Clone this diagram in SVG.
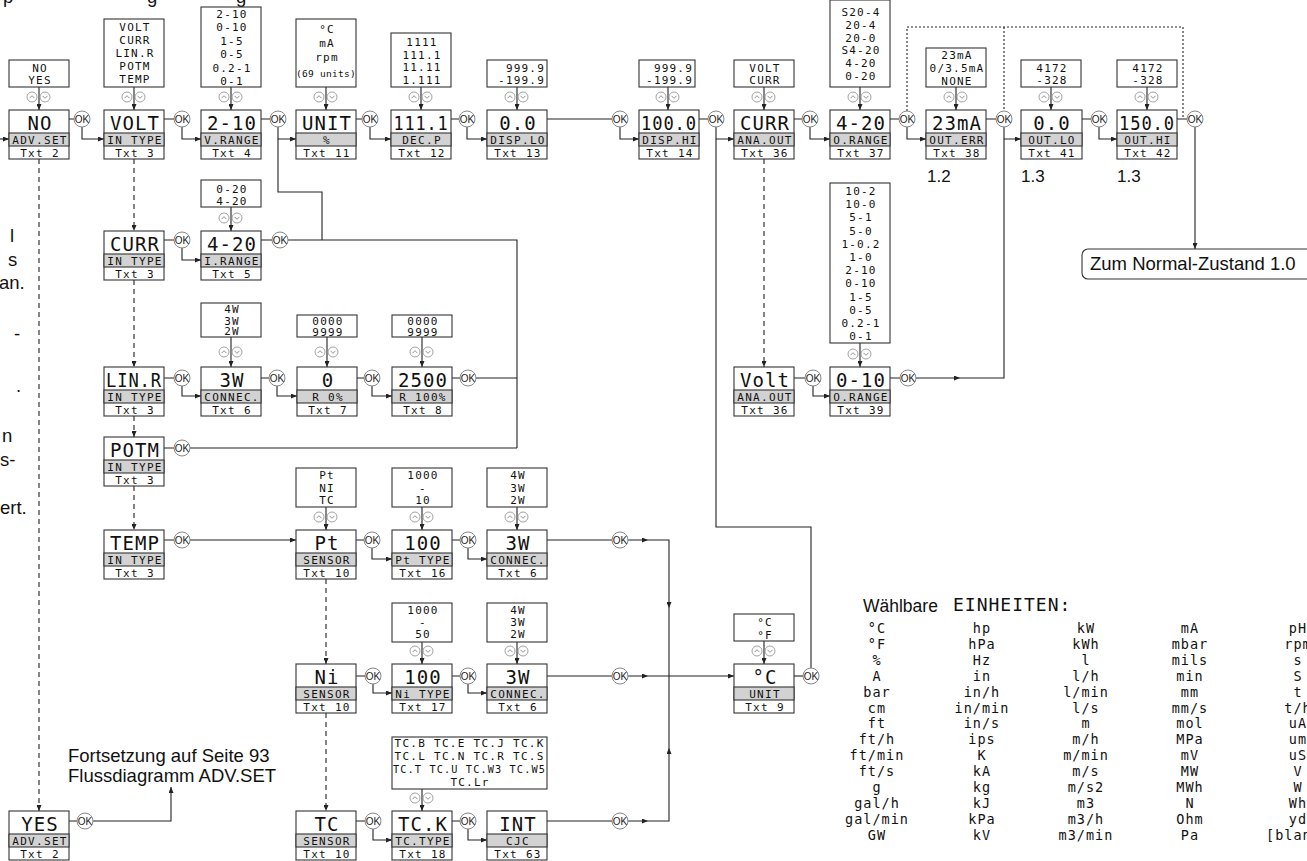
<svg xmlns="http://www.w3.org/2000/svg" xmlns:xlink="http://www.w3.org/1999/xlink" width="1307" height="861" viewBox="0 0 1307 861">
<style>
.bx{fill:#fff;stroke:#333;stroke-width:1.1}
.gr{fill:#d2d2d2;stroke:#333;stroke-width:1.1}
.v{font-family:"DejaVu Sans Mono","Liberation Mono",monospace;font-size:19px;letter-spacing:1px;text-anchor:middle;fill:#111}
.l{font-family:"DejaVu Sans Mono","Liberation Mono",monospace;font-size:11px;letter-spacing:1.3px;text-anchor:middle;fill:#111}
.o{font-family:"DejaVu Sans Mono","Liberation Mono",monospace;font-size:11px;letter-spacing:1.2px;text-anchor:middle;fill:#111}
.oe{font-family:"DejaVu Sans Mono","Liberation Mono",monospace;font-size:11px;letter-spacing:1.2px;text-anchor:end;fill:#111}
.u{font-family:"DejaVu Sans Mono","Liberation Mono",monospace;font-size:13.5px;letter-spacing:1px;text-anchor:middle;fill:#111}
.t{font-family:"Liberation Sans",Arial,sans-serif;font-size:18.5px;fill:#111}
.ln{fill:none;stroke:#222;stroke-width:1.1}
.ar{marker-end:url(#ah)}
.da{stroke-dasharray:5 4}
.dt{stroke-dasharray:2 2}
.okc{fill:#fff;stroke:#888;stroke-width:1}
.okt{font-family:"Liberation Sans",Arial,sans-serif;font-size:10px;text-anchor:middle;fill:#222}
.ic{fill:#fff;stroke:#999;stroke-width:0.9}
.icp{fill:none;stroke:#888;stroke-width:0.9}
</style>
<defs>
<marker id="ah" markerWidth="6" markerHeight="5" refX="6" refY="2.5" orient="auto" markerUnits="userSpaceOnUse"><path d="M0,0 L6,2.5 L0,5 z" fill="#222"/></marker>
<g id="ud"><circle cx="-7" cy="0" r="5" class="ic"/><path d="M-9.5,1.2 L-7,-1.3 L-4.5,1.2" class="icp"/><circle cx="6" cy="0" r="5" class="ic"/><path d="M3.5,-1.2 L6,1.3 L8.5,-1.2" class="icp"/></g>
<g id="ok"><circle r="8" class="okc"/><text y="3.5" class="okt">OK</text></g>
</defs>
<rect width="1307" height="861" fill="#fff"/>

<!-- cut-off page text fragments -->
<g id="fragments">
<text class="t" x="3" y="3">p</text><text class="t" x="147" y="3">g</text><text class="t" x="236" y="3">g</text>
<text class="t" x="10" y="242">l</text>
<text class="t" x="8" y="266">s</text>
<text class="t" x="-1" y="289">an.</text>
<text class="t" x="14" y="340">-</text>
<text class="t" x="16" y="392">.</text>
<text class="t" x="2" y="442">n</text>
<text class="t" x="0" y="466">s-</text>
<text class="t" x="0" y="514">ert.</text>
</g>

<g id="connectors">
<!-- top row -->
<path class="ln ar" d="M0,139 H9"/>
<path class="ln ar" d="M69,119 H82 V139 H104"/>
<path class="ln ar" d="M164,119 H182 V139 H201"/>
<path class="ln ar" d="M261,119 H278 V139 H296"/>
<path class="ln" d="M278,139 V192 H322 V240"/>
<path class="ln ar" d="M356,119 H370 V139 H391"/>
<path class="ln ar" d="M451,119 H467 V139 H487"/>
<path class="ln ar" d="M547,119 H620 V139 H639"/>
<path class="ln ar" d="M699,119 H716 V139 H734"/>
<path class="ln" d="M716,139 V527 H811 V676"/>
<path class="ln ar" d="M794,119 H810 V139 H830"/>
<path class="ln ar" d="M890,119 H907 V139 H926"/>
<path class="ln ar" d="M986,119 H1004 V139 H1021"/>
<path class="ln" d="M960,378 H1004 V139"/>
<path class="ln ar" d="M1082,119 H1099 V139 H1117"/>
<path class="ln ar" d="M1177,119 H1195 V249"/>
<path class="ln dt" d="M907,119 V27 H1183 V119"/>
<path class="ln dt" d="M1004,27 V119"/>
<!-- row 2 -->
<path class="ln ar" d="M164,240 H182 V260 H201"/>
<path class="ln" d="M261,240 H517 V448"/>
<!-- row 3 -->
<path class="ln ar" d="M164,378 H182 V396 H201"/>
<path class="ln ar" d="M261,378 H277 V396 H297"/>
<path class="ln ar" d="M357,378 H372 V396 H392"/>
<path class="ln" d="M452,378 H517"/>
<path class="ln ar" d="M794,378 H813 V396 H830"/>
<path class="ln ar" d="M890,378 H960"/>
<path class="ln" d="M164,448 H517"/>
<!-- temp row -->
<path class="ln ar" d="M164,540 H296"/>
<path class="ln ar" d="M356,540 H372 V559 H392"/>
<path class="ln ar" d="M452,540 H468 V559 H487"/>
<path class="ln ar" d="M547,540 H648"/>
<path class="ln ar" d="M648,540 H669 V608"/>
<path class="ln" d="M669,608 V676"/>
<!-- Ni row -->
<path class="ln ar" d="M356,676 H373 V693 H392"/>
<path class="ln ar" d="M451,676 H468 V693 H487"/>
<path class="ln ar" d="M547,676 H648"/>
<path class="ln ar" d="M648,676 H734"/>
<path class="ln" d="M794,676 H811"/>
<!-- TC row -->
<path class="ln ar" d="M69,821 H171 V787"/>
<path class="ln ar" d="M356,821 H373 V840 H392"/>
<path class="ln ar" d="M452,821 H468 V840 H487"/>
<path class="ln ar" d="M547,821 H648"/>
<path class="ln ar" d="M648,821 H669 V748"/>
<path class="ln" d="M669,748 V676"/>
<!-- dashed menu scroll -->
<path class="ln da ar" d="M39,159 V811"/>
<path class="ln da ar" d="M134,159 V231"/>
<path class="ln da ar" d="M134,280 V367"/>
<path class="ln da ar" d="M134,416 V437"/>
<path class="ln da ar" d="M134,486 V530"/>
<path class="ln da ar" d="M326,579 V664"/>
<path class="ln da ar" d="M326,713 V811"/>
<path class="ln da ar" d="M764,159 V367"/>
<!-- option selectors -->
<path class="ln ar" d="M39,87 V110"/>
<path class="ln ar" d="M134,87 V110"/>
<path class="ln ar" d="M231,87 V110"/>
<path class="ln ar" d="M326,87 V110"/>
<path class="ln ar" d="M421,87 V110"/>
<path class="ln ar" d="M517,87 V110"/>
<path class="ln ar" d="M668,87 V110"/>
<path class="ln ar" d="M764,87 V110"/>
<path class="ln ar" d="M860,87 V110"/>
<path class="ln ar" d="M956,87 V110"/>
<path class="ln ar" d="M1051,87 V110"/>
<path class="ln ar" d="M1147,87 V110"/>
<path class="ln ar" d="M231,207 V231"/>
<path class="ln ar" d="M231,337 V367"/>
<path class="ln ar" d="M327,337 V367"/>
<path class="ln ar" d="M422,337 V367"/>
<path class="ln ar" d="M860,343 V367"/>
<path class="ln ar" d="M326,507 V530"/>
<path class="ln ar" d="M422,507 V530"/>
<path class="ln ar" d="M517,507 V530"/>
<path class="ln ar" d="M422,642 V664"/>
<path class="ln ar" d="M517,642 V664"/>
<path class="ln ar" d="M764,641 V664"/>
<path class="ln ar" d="M422,789 V811"/>
<!-- OK buttons -->
<use href="#ok" x="82" y="119"/><use href="#ok" x="182" y="119"/><use href="#ok" x="278" y="119"/><use href="#ok" x="370" y="119"/>
<use href="#ok" x="467" y="119"/><use href="#ok" x="620" y="119"/><use href="#ok" x="716" y="119"/><use href="#ok" x="810" y="119"/>
<use href="#ok" x="907" y="119"/><use href="#ok" x="1004" y="119"/><use href="#ok" x="1099" y="119"/><use href="#ok" x="1195" y="119"/>
<use href="#ok" x="182" y="240"/><use href="#ok" x="280" y="240"/>
<use href="#ok" x="182" y="378"/><use href="#ok" x="277" y="378"/><use href="#ok" x="372" y="378"/><use href="#ok" x="468" y="378"/>
<use href="#ok" x="813" y="378"/><use href="#ok" x="908" y="378"/>
<use href="#ok" x="182" y="448"/>
<use href="#ok" x="182" y="540"/><use href="#ok" x="372" y="540"/><use href="#ok" x="468" y="540"/><use href="#ok" x="620" y="540"/>
<use href="#ok" x="373" y="676"/><use href="#ok" x="468" y="676"/><use href="#ok" x="620" y="676"/><use href="#ok" x="811" y="676"/>
<use href="#ok" x="85" y="821"/><use href="#ok" x="373" y="821"/><use href="#ok" x="468" y="821"/><use href="#ok" x="620" y="821"/>
</g>

<!-- top row nodes -->
<g id="n-advset-no">
<rect class="bx" x="9" y="60" width="60" height="27"/><text class="o" x="40" y="72">NO</text><text class="o" x="40" y="84">YES</text>
<use href="#ud" x="39" y="97"/>
<rect class="bx" x="9" y="110" width="60" height="49"/><rect class="gr" x="9" y="133" width="60" height="13"/>
<text class="v" x="40" y="129.5">NO</text><text class="l" x="40" y="144">ADV.SET</text><text class="l" x="40" y="157">Txt 2</text>
</g>
<g id="n-intype-volt">
<rect class="bx" x="104" y="19" width="60" height="68"/>
<text class="o" x="135" y="31">VOLT</text><text class="o" x="135" y="44">CURR</text><text class="o" x="135" y="57">LIN.R</text><text class="o" x="135" y="70">POTM</text><text class="o" x="135" y="83">TEMP</text>
<use href="#ud" x="134" y="97"/>
<rect class="bx" x="104" y="110" width="60" height="49"/><rect class="gr" x="104" y="133" width="60" height="13"/>
<text class="v" x="135" y="129.5">VOLT</text><text class="l" x="135" y="144">IN TYPE</text><text class="l" x="135" y="157">Txt 3</text>
</g>
<g id="n-vrange">
<rect class="bx" x="201" y="7" width="60" height="80"/>
<text class="o" x="232" y="18">2-10</text><text class="o" x="232" y="31.4">0-10</text><text class="o" x="232" y="44.8">1-5</text><text class="o" x="232" y="58.2">0-5</text><text class="o" x="232" y="71.6">0.2-1</text><text class="o" x="232" y="85">0-1</text>
<use href="#ud" x="231" y="97"/>
<rect class="bx" x="201" y="110" width="60" height="49"/><rect class="gr" x="201" y="133" width="60" height="13"/>
<text class="v" x="232" y="129.5">2-10</text><text class="l" x="232" y="144">V.RANGE</text><text class="l" x="232" y="157">Txt 4</text>
</g>
<g id="n-unit">
<rect class="bx" x="296" y="19" width="60" height="68"/>
<text class="o" x="327" y="33">°C</text><text class="o" x="327" y="47">mA</text><text class="o" x="327" y="61">rpm</text><text class="o" x="326" y="77" style="font-size:9.5px;letter-spacing:0.3px">(69 units)</text>
<use href="#ud" x="326" y="97"/>
<rect class="bx" x="296" y="110" width="60" height="49"/><rect class="gr" x="296" y="133" width="60" height="13"/>
<text class="v" x="327" y="129.5">UNIT</text><text class="l" x="327" y="144">%</text><text class="l" x="327" y="157">Txt 11</text>
</g>
<g id="n-decp">
<rect class="bx" x="391" y="33" width="60" height="54"/>
<text class="o" x="422" y="46">1111</text><text class="o" x="422" y="58.5">111.1</text><text class="o" x="422" y="71">11.11</text><text class="o" x="422" y="84">1.111</text>
<use href="#ud" x="421" y="97"/>
<rect class="bx" x="391" y="110" width="60" height="49"/><rect class="gr" x="391" y="133" width="60" height="13"/>
<text class="v" x="421" y="129.5" textLength="55" lengthAdjust="spacingAndGlyphs">111.1</text><text class="l" x="422" y="144">DEC.P</text><text class="l" x="422" y="157">Txt 12</text>
</g>
<g id="n-displo">
<rect class="bx" x="487" y="60" width="60" height="27"/><text class="oe" x="545" y="72">999.9</text><text class="oe" x="545" y="84">-199.9</text>
<use href="#ud" x="517" y="97"/>
<rect class="bx" x="487" y="110" width="60" height="49"/><rect class="gr" x="487" y="133" width="60" height="13"/>
<text class="v" x="518" y="129.5">0.0</text><text class="l" x="518" y="144">DISP.LO</text><text class="l" x="518" y="157">Txt 13</text>
</g>
<g id="n-disphi">
<rect class="bx" x="639" y="60" width="56" height="27"/><text class="oe" x="693" y="72">999.9</text><text class="oe" x="693" y="84">-199.9</text>
<use href="#ud" x="668" y="97"/>
<rect class="bx" x="639" y="110" width="60" height="49"/><rect class="gr" x="639" y="133" width="60" height="13"/>
<text class="v" x="669" y="129.5" textLength="56" lengthAdjust="spacingAndGlyphs">100.0</text><text class="l" x="670" y="144">DISP.HI</text><text class="l" x="670" y="157">Txt 14</text>
</g>
<g id="n-anaout-curr">
<rect class="bx" x="734" y="60" width="60" height="27"/><text class="o" x="765" y="72">VOLT</text><text class="o" x="765" y="84">CURR</text>
<use href="#ud" x="764" y="97"/>
<rect class="bx" x="734" y="110" width="60" height="49"/><rect class="gr" x="734" y="133" width="60" height="13"/>
<text class="v" x="765" y="129.5">CURR</text><text class="l" x="765" y="144">ANA.OUT</text><text class="l" x="765" y="157">Txt 36</text>
</g>
<g id="n-orange-curr">
<rect class="bx" x="830" y="0" width="60" height="87"/>
<text class="o" x="861" y="16">S20-4</text><text class="o" x="861" y="28.8">20-4</text><text class="o" x="861" y="41.6">20-0</text><text class="o" x="861" y="54.4">S4-20</text><text class="o" x="861" y="67.2">4-20</text><text class="o" x="861" y="80">0-20</text>
<use href="#ud" x="860" y="97"/>
<rect class="bx" x="830" y="110" width="60" height="49"/><rect class="gr" x="830" y="133" width="60" height="13"/>
<text class="v" x="861" y="129.5">4-20</text><text class="l" x="861" y="144">O.RANGE</text><text class="l" x="861" y="157">Txt 37</text>
</g>
<g id="n-outerr">
<rect class="bx" x="926" y="48" width="60" height="39"/>
<text class="o" x="957" y="58.5">23mA</text><text class="o" x="957" y="71.5">0/3.5mA</text><text class="o" x="957" y="84.5">NONE</text>
<use href="#ud" x="956" y="97"/>
<rect class="bx" x="926" y="110" width="60" height="49"/><rect class="gr" x="926" y="133" width="60" height="13"/>
<text class="v" x="957" y="129.5">23mA</text><text class="l" x="957" y="144">OUT.ERR</text><text class="l" x="957" y="157">Txt 38</text>
</g>
<g id="n-outlo">
<rect class="bx" x="1021" y="60" width="60" height="27"/><text class="o" x="1052" y="72">4172</text><text class="o" x="1052" y="84">-328</text>
<use href="#ud" x="1051" y="97"/>
<rect class="bx" x="1021" y="110" width="61" height="49"/><rect class="gr" x="1021" y="133" width="61" height="13"/>
<text class="v" x="1052" y="129.5">0.0</text><text class="l" x="1052" y="144">OUT.LO</text><text class="l" x="1052" y="157">Txt 41</text>
</g>
<g id="n-outhi">
<rect class="bx" x="1117" y="60" width="60" height="27"/><text class="o" x="1148" y="72">4172</text><text class="o" x="1148" y="84">-328</text>
<use href="#ud" x="1147" y="97"/>
<rect class="bx" x="1117" y="110" width="60" height="49"/><rect class="gr" x="1117" y="133" width="60" height="13"/>
<text class="v" x="1147" y="129.5" textLength="56" lengthAdjust="spacingAndGlyphs">150.0</text><text class="l" x="1148" y="144">OUT.HI</text><text class="l" x="1148" y="157">Txt 42</text>
</g>
<g id="n-normal">
<rect x="1082" y="249" width="240" height="30" rx="6" fill="#fff" stroke="#333" stroke-width="1.1"/>
<text class="t" x="1090" y="270">Zum Normal-Zustand 1.0</text>
</g>
<g id="n-refs">
<text class="t" x="927" y="182" style="font-size:17px">1.2</text>
<text class="t" x="1021" y="182" style="font-size:17px">1.3</text>
<text class="t" x="1117" y="182" style="font-size:17px">1.3</text>
</g>

<!-- row 2 -->
<g id="n-intype-curr">
<rect class="bx" x="104" y="231" width="60" height="49"/><rect class="gr" x="104" y="254" width="60" height="13"/>
<text class="v" x="135" y="250.5">CURR</text><text class="l" x="135" y="265">IN TYPE</text><text class="l" x="135" y="278">Txt 3</text>
</g>
<g id="n-irange">
<rect class="bx" x="201" y="180" width="60" height="27"/><text class="o" x="232" y="193">0-20</text><text class="o" x="232" y="205">4-20</text>
<use href="#ud" x="231" y="218"/>
<rect class="bx" x="201" y="231" width="60" height="49"/><rect class="gr" x="201" y="254" width="60" height="13"/>
<text class="v" x="232" y="250.5">4-20</text><text class="l" x="232" y="265">I.RANGE</text><text class="l" x="232" y="278">Txt 5</text>
</g>

<!-- row 3 -->
<g id="n-intype-linr">
<rect class="bx" x="104" y="367" width="60" height="49"/><rect class="gr" x="104" y="390" width="60" height="13"/>
<text class="v" x="134" y="386.5" textLength="56" lengthAdjust="spacingAndGlyphs">LIN.R</text><text class="l" x="135" y="401">IN TYPE</text><text class="l" x="135" y="414">Txt 3</text>
</g>
<g id="n-connec-linr">
<rect class="bx" x="201" y="303" width="60" height="34"/><text class="o" x="232" y="313">4W</text><text class="o" x="232" y="324.5">3W</text><text class="o" x="232" y="335">2W</text>
<use href="#ud" x="231" y="352"/>
<rect class="bx" x="201" y="367" width="60" height="49"/><rect class="gr" x="201" y="390" width="60" height="13"/>
<text class="v" x="232" y="386.5">3W</text><text class="l" x="232" y="401">CONNEC.</text><text class="l" x="232" y="414">Txt 6</text>
</g>
<g id="n-r0">
<rect class="bx" x="297" y="315" width="60" height="22"/><text class="o" x="328" y="325">0000</text><text class="o" x="328" y="336">9999</text>
<use href="#ud" x="327" y="352"/>
<rect class="bx" x="297" y="367" width="60" height="49"/><rect class="gr" x="297" y="390" width="60" height="13"/>
<text class="v" x="328" y="386.5">0</text><text class="l" x="328" y="401">R 0%</text><text class="l" x="328" y="414">Txt 7</text>
</g>
<g id="n-r100">
<rect class="bx" x="392" y="315" width="60" height="22"/><text class="o" x="423" y="325">0000</text><text class="o" x="423" y="336">9999</text>
<use href="#ud" x="422" y="352"/>
<rect class="bx" x="392" y="367" width="60" height="49"/><rect class="gr" x="392" y="390" width="60" height="13"/>
<text class="v" x="423" y="386.5">2500</text><text class="l" x="423" y="401">R 100%</text><text class="l" x="423" y="414">Txt 8</text>
</g>
<g id="n-anaout-volt">
<rect class="bx" x="734" y="367" width="60" height="49"/><rect class="gr" x="734" y="390" width="60" height="13"/>
<text class="v" x="765" y="386.5">Volt</text><text class="l" x="765" y="401">ANA.OUT</text><text class="l" x="765" y="414">Txt 36</text>
</g>
<g id="n-orange-volt">
<rect class="bx" x="830" y="183" width="60" height="160"/>
<text class="o" x="861" y="195">10-2</text><text class="o" x="861" y="208.2">10-0</text><text class="o" x="861" y="221.4">5-1</text><text class="o" x="861" y="234.6">5-0</text><text class="o" x="861" y="247.8">1-0.2</text><text class="o" x="861" y="261">1-0</text><text class="o" x="861" y="274.2">2-10</text><text class="o" x="861" y="287.4">0-10</text><text class="o" x="861" y="300.6">1-5</text><text class="o" x="861" y="313.8">0-5</text><text class="o" x="861" y="327">0.2-1</text><text class="o" x="861" y="340.2">0-1</text>
<use href="#ud" x="860" y="354"/>
<rect class="bx" x="830" y="367" width="60" height="49"/><rect class="gr" x="830" y="390" width="60" height="13"/>
<text class="v" x="861" y="386.5">0-10</text><text class="l" x="861" y="401">O.RANGE</text><text class="l" x="861" y="414">Txt 39</text>
</g>

<g id="n-intype-potm">
<rect class="bx" x="104" y="437" width="60" height="49"/><rect class="gr" x="104" y="460" width="60" height="13"/>
<text class="v" x="135" y="456.5">POTM</text><text class="l" x="135" y="471">IN TYPE</text><text class="l" x="135" y="484">Txt 3</text>
</g>
<g id="n-intype-temp">
<rect class="bx" x="104" y="530" width="60" height="49"/><rect class="gr" x="104" y="553" width="60" height="13"/>
<text class="v" x="135" y="549.5">TEMP</text><text class="l" x="135" y="564">IN TYPE</text><text class="l" x="135" y="577">Txt 3</text>
</g>
<g id="n-sensor-pt">
<rect class="bx" x="296" y="468" width="60" height="39"/><text class="o" x="327" y="479">Pt</text><text class="o" x="327" y="492">NI</text><text class="o" x="327" y="504">TC</text>
<use href="#ud" x="326" y="517"/>
<rect class="bx" x="296" y="530" width="60" height="49"/><rect class="gr" x="296" y="553" width="60" height="13"/>
<text class="v" x="327" y="549.5">Pt</text><text class="l" x="327" y="564">SENSOR</text><text class="l" x="327" y="577">Txt 10</text>
</g>
<g id="n-pttype">
<rect class="bx" x="392" y="468" width="60" height="39"/><text class="o" x="423" y="479">1000</text><text class="o" x="423" y="492">-</text><text class="o" x="423" y="504">10</text>
<use href="#ud" x="422" y="517"/>
<rect class="bx" x="392" y="530" width="60" height="49"/><rect class="gr" x="392" y="553" width="60" height="13"/>
<text class="v" x="423" y="549.5">100</text><text class="l" x="423" y="564">Pt TYPE</text><text class="l" x="423" y="577">Txt 16</text>
</g>
<g id="n-connec-pt">
<rect class="bx" x="487" y="468" width="60" height="39"/><text class="o" x="518" y="479">4W</text><text class="o" x="518" y="492">3W</text><text class="o" x="518" y="504">2W</text>
<use href="#ud" x="517" y="517"/>
<rect class="bx" x="487" y="530" width="60" height="49"/><rect class="gr" x="487" y="553" width="60" height="13"/>
<text class="v" x="518" y="549.5">3W</text><text class="l" x="518" y="564">CONNEC.</text><text class="l" x="518" y="577">Txt 6</text>
</g>

<g id="n-sensor-ni">
<rect class="bx" x="296" y="664" width="60" height="49"/><rect class="gr" x="296" y="687" width="60" height="13"/>
<text class="v" x="327" y="683.5">Ni</text><text class="l" x="327" y="698">SENSOR</text><text class="l" x="327" y="711">Txt 10</text>
</g>
<g id="n-nitype">
<rect class="bx" x="392" y="603" width="60" height="39"/><text class="o" x="423" y="614">1000</text><text class="o" x="423" y="626">-</text><text class="o" x="423" y="638">50</text>
<use href="#ud" x="422" y="651"/>
<rect class="bx" x="392" y="664" width="60" height="49"/><rect class="gr" x="392" y="687" width="60" height="13"/>
<text class="v" x="423" y="683.5">100</text><text class="l" x="423" y="698">Ni TYPE</text><text class="l" x="423" y="711">Txt 17</text>
</g>
<g id="n-connec-ni">
<rect class="bx" x="487" y="603" width="60" height="39"/><text class="o" x="518" y="614">4W</text><text class="o" x="518" y="626">3W</text><text class="o" x="518" y="638">2W</text>
<use href="#ud" x="517" y="651"/>
<rect class="bx" x="487" y="664" width="60" height="49"/><rect class="gr" x="487" y="687" width="60" height="13"/>
<text class="v" x="518" y="683.5">3W</text><text class="l" x="518" y="698">CONNEC.</text><text class="l" x="518" y="711">Txt 6</text>
</g>
<g id="n-unit-temp">
<rect class="bx" x="734" y="614" width="60" height="27"/><text class="o" x="765" y="626">°C</text><text class="o" x="765" y="639">°F</text>
<use href="#ud" x="764" y="651"/>
<rect class="bx" x="734" y="664" width="60" height="49"/><rect class="gr" x="734" y="687" width="60" height="13"/>
<text class="v" x="765" y="683.5">°C</text><text class="l" x="765" y="698">UNIT</text><text class="l" x="765" y="711">Txt 9</text>
</g>

<g id="n-advset-yes">
<rect class="bx" x="9" y="811" width="60" height="49"/><rect class="gr" x="9" y="834" width="60" height="13"/>
<text class="v" x="40" y="830.5">YES</text><text class="l" x="40" y="845">ADV.SET</text><text class="l" x="40" y="858">Txt 2</text>
</g>
<g id="n-continue">
<text class="t" x="68" y="762">Fortsetzung auf Seite 93</text>
<text class="t" x="68" y="782">Flussdiagramm ADV.SET</text>
</g>
<g id="n-sensor-tc">
<rect class="bx" x="296" y="811" width="60" height="49"/><rect class="gr" x="296" y="834" width="60" height="13"/>
<text class="v" x="327" y="830.5">TC</text><text class="l" x="327" y="845">SENSOR</text><text class="l" x="327" y="858">Txt 10</text>
</g>
<g id="n-tctype">
<rect class="bx" x="392" y="737" width="155" height="52"/>
<text class="o" x="469.5" y="747" textLength="150">TC.B TC.E TC.J TC.K</text>
<text class="o" x="469.5" y="760" textLength="150">TC.L TC.N TC.R TC.S</text>
<text class="o" x="469.5" y="773" textLength="153" lengthAdjust="spacingAndGlyphs">TC.T TC.U TC.W3 TC.W5</text>
<text class="o" x="470" y="786">TC.Lr</text>
<use href="#ud" x="422" y="798"/>
<rect class="bx" x="392" y="811" width="60" height="49"/><rect class="gr" x="392" y="834" width="60" height="13"/>
<text class="v" x="423" y="830.5">TC.K</text><text class="l" x="423" y="845">TC.TYPE</text><text class="l" x="423" y="858">Txt 18</text>
</g>
<g id="n-cjc">
<rect class="bx" x="487" y="811" width="60" height="49"/><rect class="gr" x="487" y="834" width="60" height="13"/>
<text class="v" x="518" y="830.5">INT</text><text class="l" x="518" y="845">CJC</text><text class="l" x="518" y="858">Txt 63</text>
</g>

<g id="units-table">
<text class="t" x="863" y="612" style="font-size:17.5px">Wählbare</text>
<text x="953" y="611" style="font-family:'DejaVu Sans Mono','Liberation Mono',monospace;font-size:18px;letter-spacing:1px;fill:#111">EINHEITEN:</text>
<text class="u"><tspan x="877" y="633">°C</tspan><tspan x="877" dy="15.9">°F</tspan><tspan x="877" dy="15.9">%</tspan><tspan x="877" dy="15.9">A</tspan><tspan x="877" dy="15.9">bar</tspan><tspan x="877" dy="15.9">cm</tspan><tspan x="877" dy="15.9">ft</tspan><tspan x="877" dy="15.9">ft/h</tspan><tspan x="877" dy="15.9">ft/min</tspan><tspan x="877" dy="15.9">ft/s</tspan><tspan x="877" dy="15.9">g</tspan><tspan x="877" dy="15.9">gal/h</tspan><tspan x="877" dy="15.9">gal/min</tspan><tspan x="877" dy="15.9">GW</tspan></text>
<text class="u"><tspan x="982" y="633">hp</tspan><tspan x="982" dy="15.9">hPa</tspan><tspan x="982" dy="15.9">Hz</tspan><tspan x="982" dy="15.9">in</tspan><tspan x="982" dy="15.9">in/h</tspan><tspan x="982" dy="15.9">in/min</tspan><tspan x="982" dy="15.9">in/s</tspan><tspan x="982" dy="15.9">ips</tspan><tspan x="982" dy="15.9">K</tspan><tspan x="982" dy="15.9">kA</tspan><tspan x="982" dy="15.9">kg</tspan><tspan x="982" dy="15.9">kJ</tspan><tspan x="982" dy="15.9">kPa</tspan><tspan x="982" dy="15.9">kV</tspan></text>
<text class="u"><tspan x="1086" y="633">kW</tspan><tspan x="1086" dy="15.9">kWh</tspan><tspan x="1086" dy="15.9">l</tspan><tspan x="1086" dy="15.9">l/h</tspan><tspan x="1086" dy="15.9">l/min</tspan><tspan x="1086" dy="15.9">l/s</tspan><tspan x="1086" dy="15.9">m</tspan><tspan x="1086" dy="15.9">m/h</tspan><tspan x="1086" dy="15.9">m/min</tspan><tspan x="1086" dy="15.9">m/s</tspan><tspan x="1086" dy="15.9">m/s2</tspan><tspan x="1086" dy="15.9">m3</tspan><tspan x="1086" dy="15.9">m3/h</tspan><tspan x="1086" dy="15.9">m3/min</tspan></text>
<text class="u"><tspan x="1190" y="633">mA</tspan><tspan x="1190" dy="15.9">mbar</tspan><tspan x="1190" dy="15.9">mils</tspan><tspan x="1190" dy="15.9">min</tspan><tspan x="1190" dy="15.9">mm</tspan><tspan x="1190" dy="15.9">mm/s</tspan><tspan x="1190" dy="15.9">mol</tspan><tspan x="1190" dy="15.9">MPa</tspan><tspan x="1190" dy="15.9">mV</tspan><tspan x="1190" dy="15.9">MW</tspan><tspan x="1190" dy="15.9">MWh</tspan><tspan x="1190" dy="15.9">N</tspan><tspan x="1190" dy="15.9">Ohm</tspan><tspan x="1190" dy="15.9">Pa</tspan></text>
<text class="u"><tspan x="1298" y="633">pH</tspan><tspan x="1298" dy="15.9">rpm</tspan><tspan x="1298" dy="15.9">s</tspan><tspan x="1298" dy="15.9">S</tspan><tspan x="1298" dy="15.9">t</tspan><tspan x="1298" dy="15.9">t/h</tspan><tspan x="1298" dy="15.9">uA</tspan><tspan x="1298" dy="15.9">um</tspan><tspan x="1298" dy="15.9">uS</tspan><tspan x="1298" dy="15.9">V</tspan><tspan x="1298" dy="15.9">W</tspan><tspan x="1298" dy="15.9">Wh</tspan><tspan x="1298" dy="15.9">yd</tspan><tspan x="1298" dy="15.9">[blank]</tspan></text>
</g>
</svg>
